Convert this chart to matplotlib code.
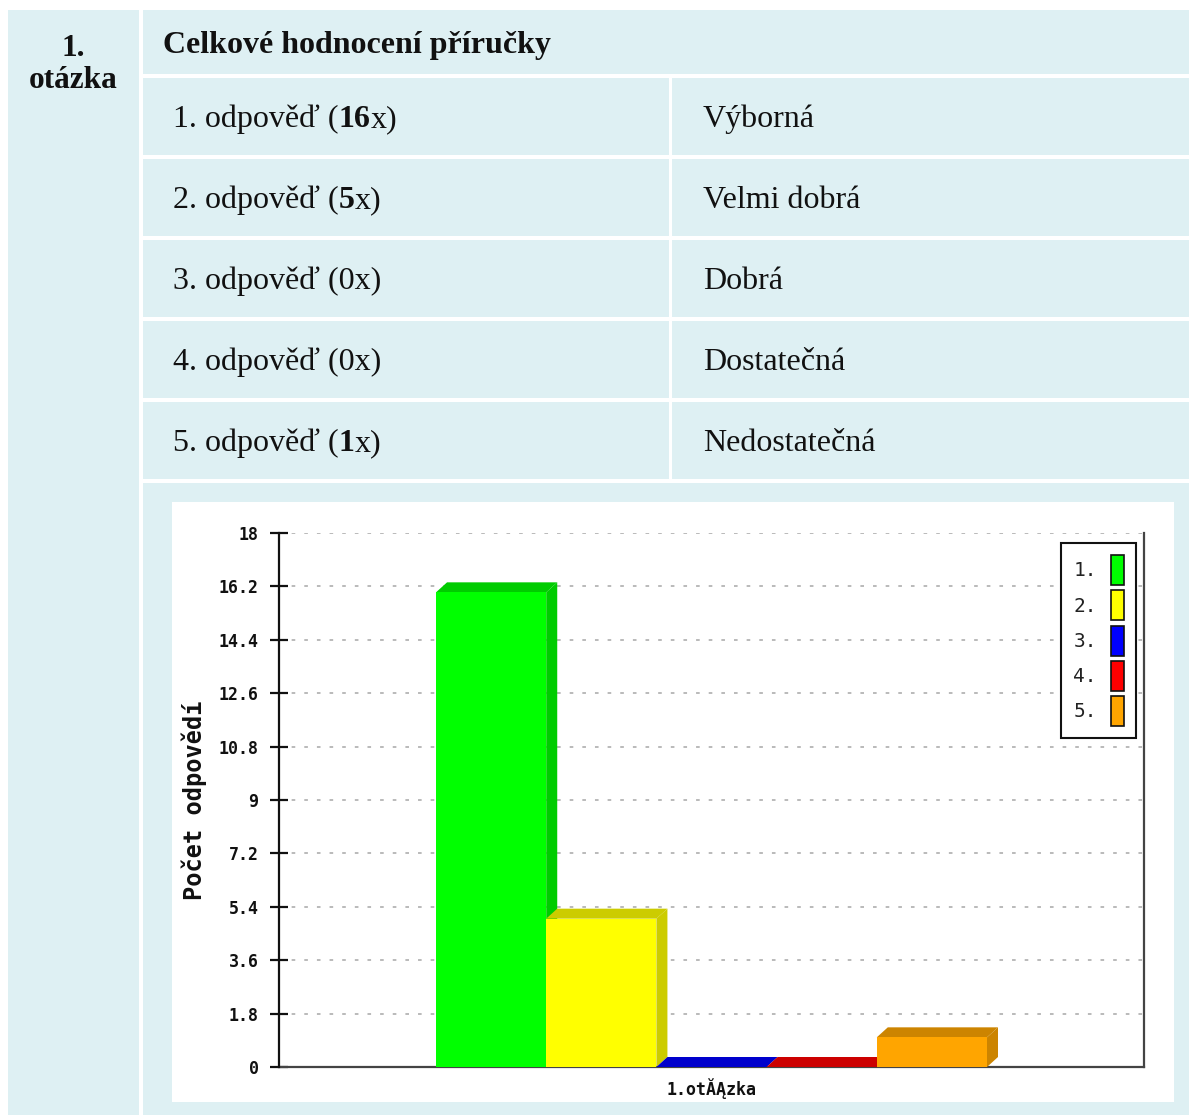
import matplotlib
matplotlib.use("Agg")
import matplotlib.pyplot as plt
from matplotlib.patches import Rectangle, Polygon, Patch
import numpy as np

# survey answers and counts
otazka = "Celkové hodnocení příručky"
odpovedi = ['Výborná', 'Velmi dobrá', 'Dobrá', 'Dostatečná', 'Nedostatečná']
pocty = [16, 5, 0, 0, 1]
legenda = ['1.', '2.', '3.', '4.', '5.']
kategorie = '1.otĂĄzka'

barvy = ['#00ff00', '#ffff00', '#0000ff', '#ff0000', '#ffa500']
barvy_stin = ['#00cc00', '#cccc00', '#0000cc', '#cc0000', '#cc8400']

yticks = [0, 1.8, 3.6, 5.4, 7.2, 9, 10.8, 12.6, 14.4, 16.2, 18]
ytick_labels = ['0', '1.8', '3.6', '5.4', '7.2', '9', '10.8', '12.6', '14.4', '16.2', '18']

W, H = 1189, 1115
bunka = '#def0f3'
serif = 'Liberation Serif'
mono = 'DejaVu Sans Mono'

fig = plt.figure(figsize=(W / 100, H / 100), dpi=100)
bg = fig.add_axes([0, 0, 1, 1])
bg.set_xlim(0, W)
bg.set_ylim(H, 0)
bg.axis('off')


def cell(x0, y0, x1, y1, color=bunka):
    bg.add_patch(Rectangle((x0, y0), x1 - x0, y1 - y0, color=color, lw=0))


# table cells
cell(8, 10, 139, H)
cell(143, 10, W, 74)
for r in range(5):
    top = 78 + 81 * r
    cell(143, top, 669, top + 77)
    cell(672, top, W, top + 77)
cell(143, 483, W, H)
cell(172, 502, 1174, 1102, 'white')

renderer = fig.canvas.get_renderer()


def runs(x, y, parts, size=23):
    # draw regular/bold pieces one after another on a baseline
    for txt, bold in parts:
        t = bg.text(x, y, txt, fontsize=size, family=serif, va='baseline',
                    fontweight='bold' if bold else 'normal', color='#111')
        bb = t.get_window_extent(renderer)
        x = bg.transData.inverted().transform((bb.x1, bb.y0))[0]


bg.text(73, 56, '1.', fontsize=22.5, family=serif, fontweight='bold',
        ha='center', va='baseline', color='#111')
bg.text(73, 88, 'otázka', fontsize=22.5, family=serif, fontweight='bold',
        ha='center', va='baseline', color='#111')
runs(163, 53, [(otazka, True)])

for i, (odp, n) in enumerate(zip(odpovedi, pocty)):
    base = 127 + 81 * i
    if n > 0:
        parts = [(f'{i + 1}. odpověď (', False), (str(n), True), ('x)', False)]
    else:
        parts = [(f'{i + 1}. odpověď ({n}x)', False)]
    runs(173, base, parts)
    runs(703, base, [(odp, False)])

# chart
ax = fig.add_axes([279 / W, (H - 1067) / H, 865 / W, 534 / H])
ax.set_facecolor('none')
ax.set_ylim(0, 18)
ax.set_xlim(-1.925, 5.925)
dx, dy = 0.1, 0.337

for i, (n, c, cs) in enumerate(zip(pocty, barvy, barvy_stin)):
    x0, x1 = i - 0.5, i + 0.5
    ax.add_patch(Polygon([(x0, n), (x0 + dx, n + dy), (x1 + dx, n + dy), (x1, n)],
                         closed=True, color=cs, lw=0, zorder=2 + i))
    ax.add_patch(Polygon([(x1, 0), (x1, n), (x1 + dx, n + dy), (x1 + dx, dy)],
                         closed=True, color=cs, lw=0, zorder=2 + i))
    ax.bar(i, n, width=1, color=c, lw=0, zorder=2 + i)

ax.set_yticks(yticks)
ax.set_yticklabels(ytick_labels, family=mono, fontweight='bold', fontsize=12, color='#222')
ax.tick_params(axis='y', direction='inout', length=13.5, width=1.6, pad=8, colors='#111')
ax.set_xticks([2])
ax.set_xticklabels([kategorie], family=mono, fontweight='bold', fontsize=12, color='#111')
ax.tick_params(axis='x', length=0, pad=8)

ax.grid(axis='y', color='#b4b4b4', lw=1.3, linestyle=(0, (2, 5)), zorder=0)
ax.set_axisbelow(True)
ax.spines['top'].set_visible(False)
ax.spines['left'].set_linewidth(1.6)
ax.spines['left'].set_color('#111')
ax.spines['right'].set_linewidth(1.6)
ax.spines['right'].set_color('#444')
ax.spines['bottom'].set_linewidth(1.6)
ax.spines['bottom'].set_color('#444')
ax.spines['bottom'].set_zorder(1)
ax.set_ylabel('Počet odpovědí', family=mono, fontweight='bold', fontsize=17,
              color='#111', labelpad=8)

handles = [Patch(facecolor=c, edgecolor='#111', lw=1.2) for c in barvy]
leg = ax.legend(handles, legenda, loc='upper right', bbox_to_anchor=(0.9908, 0.9813),
                borderaxespad=0, markerfirst=False, fancybox=False, framealpha=1,
                prop={'family': mono, 'size': 14}, handlelength=0.67,
                handleheight=2.0, labelspacing=0.27, handletextpad=0.72,
                borderpad=0.62)
leg.get_frame().set_edgecolor('#111')
leg.get_frame().set_linewidth(1.5)
for t in leg.get_texts():
    t.set_color('#222')

fig.savefig('out.png', dpi=100)
